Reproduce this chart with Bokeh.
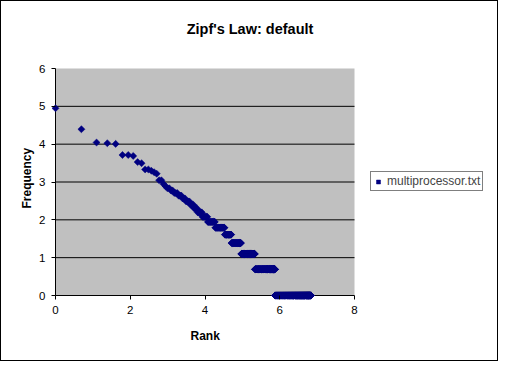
import numpy as np
from bokeh.plotting import figure
from bokeh.models import Legend, LegendItem, FixedTicker, ColumnDataSource, Label, Title
from bokeh.embed import file_html
from bokeh.resources import INLINE

# Word frequency counts (most frequent words first)
top_word_freqs = [141, 81, 57, 56, 55, 41, 41, 40, 34, 33, 28, 28, 27, 26, 25, 21, 21, 19, 18]
# Remaining words: frequency level and number of words having it
tail_freq_levels = [17, 16, 15, 14, 13, 12, 11, 10, 9, 8, 7, 6, 5, 4, 3, 2, 1]
tail_word_counts = [2, 2, 3, 3, 3, 4, 4, 4, 6, 8, 13, 21, 18, 33, 64, 148, 570]

series_name = "multiprocessor.txt"
chart_title = "Zipf's Law: default"
x_label = "Rank"
y_label = "Frequency"
x_ticks = [0, 2, 4, 6, 8]
y_ticks = [0, 1, 2, 3, 4, 5, 6]
grid_levels = [1, 2, 3, 4, 5]
x_bounds = (0, 8)
y_bounds = (0, 6)

freqs = list(top_word_freqs)
for f, n in zip(tail_freq_levels, tail_word_counts):
    freqs += [f] * n
freqs = np.array(freqs, dtype=float)
ranks = np.arange(1, len(freqs) + 1, dtype=float)
src = ColumnDataSource(dict(x=np.log(ranks), y=np.log(freqs)))

FONT = "Liberation Sans"
# pixel geometry of the canvas (inside 1px border): 496 x 359
GREY_W, GREY_H = 299.0, 227.0          # grey plot area in px
PAD = 4.0                               # px of frame left/below the grey area
FRAME_W, FRAME_H = 446, 298
kx = (x_bounds[1] - x_bounds[0]) / GREY_W
ky = (y_bounds[1] - y_bounds[0]) / GREY_H
x0 = x_bounds[0] - PAD * kx
y0 = y_bounds[0] - PAD * ky
p = figure(frame_width=FRAME_W, frame_height=FRAME_H,
           x_range=(x0, x0 + FRAME_W * kx), y_range=(y0, y0 + FRAME_H * ky),
           output_backend="svg", toolbar_location=None,
           min_border_left=50, min_border_right=0, min_border_top=0, min_border_bottom=61,
           background_fill_color="white", border_fill_color="white",
           styles={"border": "1px solid black"})
p.outline_line_color = None

# grey plot area
p.quad(left=[x_bounds[0]], right=[x_bounds[1]], bottom=[y_bounds[0]], top=[y_bounds[1]],
       fill_color="#C0C0C0", line_color=None, level="underlay")
# horizontal grid lines
p.segment(x0=[x_bounds[0]] * len(grid_levels), x1=[x_bounds[1]] * len(grid_levels),
          y0=grid_levels, y1=grid_levels, line_color="black", line_width=1, level="underlay")
# axis lines along the grey area
p.segment(x0=[x_bounds[0], x_bounds[0]], y0=[y_bounds[0], y_bounds[0]],
          x1=[x_bounds[0], x_bounds[1]], y1=[y_bounds[1], y_bounds[0]],
          line_color="black", line_width=1, level="underlay")

r = p.scatter("x", "y", source=src, marker="square", angle=np.pi / 4, size=5,
              fill_color="#000080", line_color="#000080", line_width=0.5)

p.xgrid.grid_line_color = None
p.ygrid.grid_line_color = None

for ax, ticks in ((p.xaxis[0], x_ticks), (p.yaxis[0], y_ticks)):
    ax.ticker = FixedTicker(ticks=ticks)
    ax.axis_line_color = None
    ax.major_tick_line_color = "black"
    ax.major_tick_out = 0
    ax.major_tick_in = 4
    ax.minor_tick_line_color = None
    ax.major_label_text_font = FONT
    ax.major_label_text_font_size = "11.5px"
    ax.major_label_text_color = "black"
p.xaxis.bounds = x_bounds
p.yaxis.bounds = y_bounds
p.xaxis.major_label_standoff = 6
p.yaxis.major_label_standoff = 6

# axis titles (placed as side-panel titles so they centre on the grey area)
xt = Title(text=x_label, align="left", offset=139, standoff=20,
           text_font=FONT, text_font_size="12px", text_font_style="bold", text_color="black")
p.add_layout(xt, "below")
yt = Title(text=y_label, align="left", offset=91, standoff=6,
           text_font=FONT, text_font_size="12px", text_font_style="bold", text_color="black")
p.add_layout(yt, "left")

title = Label(x=198.5, y=270.7, x_units="screen", y_units="screen", text=chart_title,
              text_align="center", text_baseline="alphabetic",
              text_font=FONT, text_font_size="14.5px", text_font_style="bold", text_color="black")
p.add_layout(title)

legend = Legend(items=[LegendItem(label=series_name, renderers=[r])],
                location=(319, 108), orientation="vertical",
                border_line_color="black", border_line_width=1,
                background_fill_color="white", background_fill_alpha=1,
                label_text_font=FONT, label_text_font_size="12px",
                label_height=11, glyph_height=11, glyph_width=10,
                label_standoff=4, padding=2, margin=0, spacing=0)
p.add_layout(legend, "center")

open("out.html", "w").write(file_html(p, INLINE))
